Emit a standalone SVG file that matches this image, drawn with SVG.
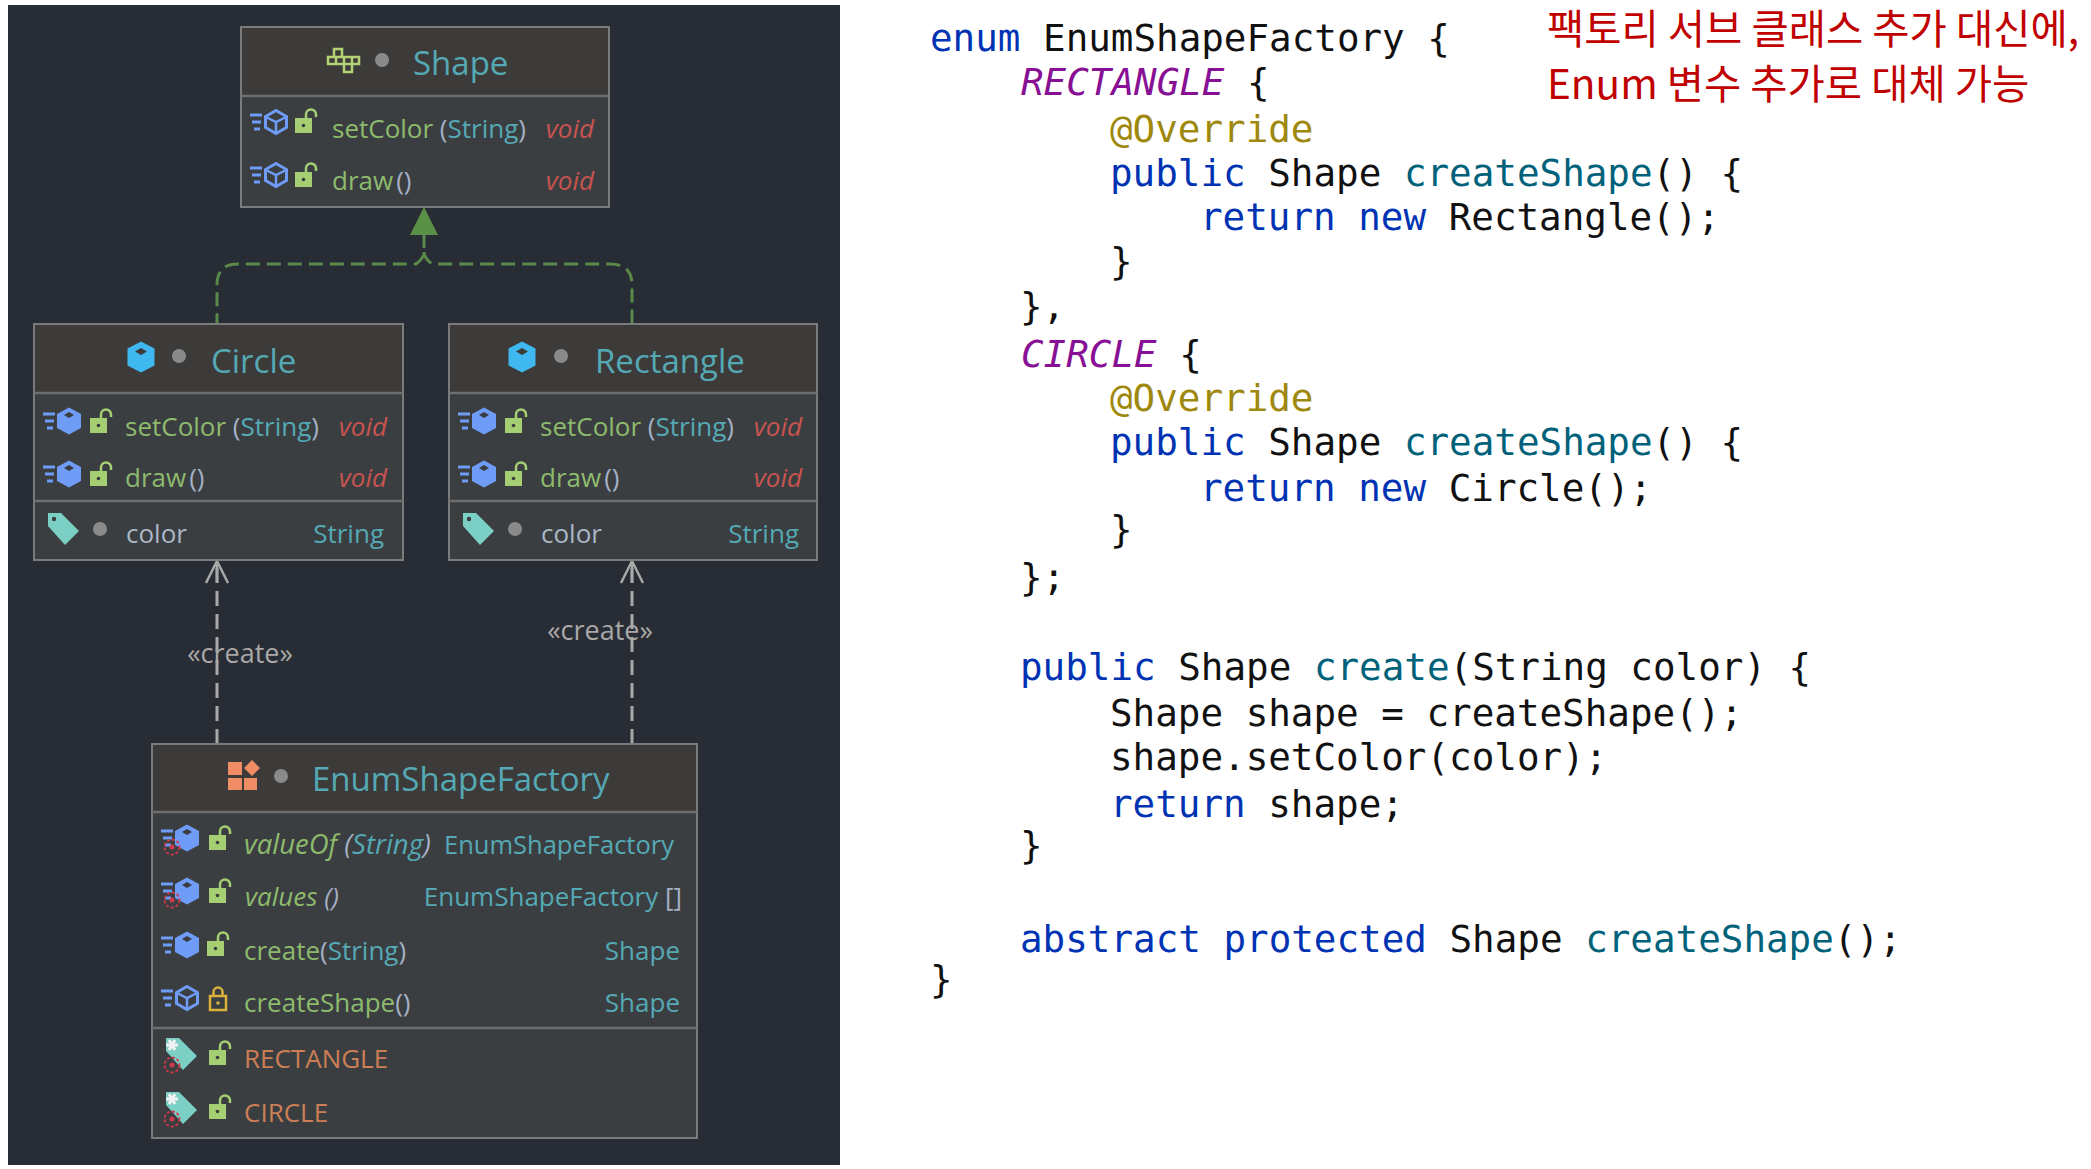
<svg xmlns="http://www.w3.org/2000/svg" xmlns:xlink="http://www.w3.org/1999/xlink" width="2091" height="1169" viewBox="0 0 2091 1169">
<style>
.hd{fill:#3c3b3a}.bd{fill:#3b3e41}.bx{fill:none;stroke:#7b7b7b;stroke-width:2}.sp{stroke:#6e6e6e;stroke-width:2.5}
.u{font-family:"Open Sans","Noto Sans",sans-serif;font-size:26px;fill:#8dbb6d}
.t{font-size:33px;fill:#55a9b5}.r{fill:#55a9b5;text-anchor:end}.v{fill:#c75450;font-style:italic;text-anchor:end}
.p{fill:#a4b0c4}.i{font-style:italic}.o{fill:#cc7f55}.g{fill:#a9b7c6}.l{fill:#a8a8a8;font-size:27px}
.c{font-family:"DejaVu Sans Mono","Liberation Mono",monospace;font-size:37.55px;fill:#111}
.k{fill:#0033b3}.f{fill:#00627a}.a{fill:#9e880d}.e{fill:#871094;font-style:italic}
.n{font-family:"Noto Sans CJK KR","Noto Sans",sans-serif;font-size:40.5px;fill:#c00000}
.dot{fill:#8a8a8a}
.impl{fill:none;stroke:#5a8a4a;stroke-width:3;stroke-dasharray:14 7}
.dep{fill:none;stroke:#a8a8a8;stroke-width:3;stroke-dasharray:15 8}
.cell{fill:none;stroke:#b4d273;stroke-width:2.5}
</style>
<defs>
<g id="speed"><path d="M-26 -7h12M-24 0h9M-22 7h6" stroke="#6f9cf7" stroke-width="3" fill="none"/></g>
<g id="mh"><use href="#speed"/><path d="M0 -11.500L10.500 -5.500V5.500L0 11.500L-10.500 5.500V-5.500Z" fill="none" stroke="#6f9cf7" stroke-width="3"/><path d="M-10 -5L0 0L10 -5M0 0V11" fill="none" stroke="#6f9cf7" stroke-width="2.500"/></g>
<g id="mf"><use href="#speed"/><path d="M0 -13.500L12 -7V7L0 13.500L-12 7V-7Z" fill="#6f9cf7"/><path d="M-5 -6L0 -9L5 -6L0 -3Z" fill="#3b3e41"/></g>
<g id="lock"><rect x="0" y="0" width="17" height="15" fill="#a5cf72"/><circle cx="8.500" cy="7.500" r="1.800" fill="#3b3e41"/><path d="M11 0V-3.500A5 5 0 0 1 21 -3.500V-1" fill="none" stroke="#a5cf72" stroke-width="2.500"/></g>
<g id="plock"><rect x="0" y="0" width="16" height="14" fill="none" stroke="#d9b13b" stroke-width="2.500"/><circle cx="8" cy="7" r="1.800" fill="#d9b13b"/><path d="M3.500 0V-4A4.500 4.500 0 0 1 12.500 -4V0" fill="none" stroke="#d9b13b" stroke-width="2.500"/></g>
<g id="tag"><path d="M-15 -16H-2L16 2L2 16L-15 -3Z" fill="#7ccfc4"/><circle cx="-9" cy="-10" r="2.200" fill="#3b3e41"/></g>
<g id="st"><circle cx="0" cy="0" r="7.500" fill="none" stroke="#d0384b" stroke-width="1.800" stroke-dasharray="3 2"/><circle cx="0" cy="0" r="2.500" fill="#d0384b"/></g>
<g id="sn"><path d="M-6 0H6M-3 -5L3 5M3 -5L-3 5" stroke="#f2f2f2" stroke-width="3" fill="none"/></g>
<g id="cls"><path d="M0 -15.500L13.500 -8.500V8.500L0 15.500L-13.500 8.500V-8.500Z" fill="#3fb8f0"/><path d="M-6 -5.500L0 -9L6 -5.500L0 -2Z" fill="#3c3b3a"/></g>
<path id="arr" d="M-11 22L0 0L11 22M0 0V22" fill="none" stroke="#a8a8a8" stroke-width="2.500"/>
</defs>
<rect width="2091" height="1169" fill="#fff"/>
<rect x="8" y="5" width="832" height="1160" fill="#282c34"/>

<g id="connectors">
<path class="impl" d="M424 234V252Q424 258 416 264H238Q217 264 217 285V324"/>
<path class="impl" d="M424 252Q424 258 432 264H610Q632 264 632 285V324"/>
<path d="M424 207L438 235H410Z" fill="#5a8f46"/>
<path class="dep" d="M217 744V562"/><path class="dep" d="M632 744V562"/>
<use href="#arr" transform="translate(217 561)"/><use href="#arr" transform="translate(632 561)"/>
<text class="u l" x="240" y="663" text-anchor="middle">«create»</text>
<text class="u l" x="600" y="640" text-anchor="middle">«create»</text>
</g>

<g id="node-shape">
<rect class="hd" x="241" y="28" width="368" height="68"/><rect class="bd" x="241" y="96" width="368" height="111"/>
<rect class="bx" x="241" y="27" width="368" height="180"/><line class="sp" x1="241" y1="96" x2="609" y2="96"/>
<path class="cell" d="M334 49h8v8h-8zM328 57h8v7h-8zM336 57h8v7h-8zM344 57h8v7h-8zM352 57h7v7h-7zM344 64h8v8h-8z"/>
<circle class="dot" cx="382" cy="60" r="7"/>
<text class="u t" x="413" y="75">Shape</text>
<use href="#mh" transform="translate(276 122)"/><use href="#lock" transform="translate(295 118)"/>
<text class="u" x="332" y="138">setColor<tspan class="p"> (</tspan><tspan class="r" style="text-anchor:start">String</tspan><tspan class="p">)</tspan></text>
<text class="u v" x="594" y="138">void</text>
<use href="#mh" transform="translate(276 175)"/><use href="#lock" transform="translate(295 172)"/>
<text class="u" x="332" y="190">draw<tspan class="p" dx="3">()</tspan></text>
<text class="u v" x="594" y="190">void</text>
</g>

<g id="node-circle">
<rect class="hd" x="34" y="324" width="369" height="69"/><rect class="bd" x="34" y="393" width="369" height="167"/>
<rect class="bx" x="34" y="324" width="369" height="236"/><line class="sp" x1="34" y1="393" x2="403" y2="393"/><line class="sp" x1="34" y1="501" x2="403" y2="501"/>
<use href="#cls" transform="translate(141 357)"/><circle class="dot" cx="179" cy="356" r="7"/>
<text class="u t" x="211" y="373">Circle</text>
<use href="#mf" transform="translate(69 421)"/><use href="#lock" transform="translate(90 418)"/>
<text class="u" x="125" y="436">setColor<tspan class="p"> (</tspan><tspan class="r" style="text-anchor:start">String</tspan><tspan class="p">)</tspan></text>
<text class="u v" x="387" y="436">void</text>
<use href="#mf" transform="translate(69 474)"/><use href="#lock" transform="translate(90 471)"/>
<text class="u" x="125" y="487">draw<tspan class="p" dx="3">()</tspan></text>
<text class="u v" x="387" y="487">void</text>
<use href="#tag" transform="translate(63 529)"/><circle class="dot" cx="100" cy="529" r="7"/>
<text class="u g" x="126" y="543">color</text><text class="u r" x="384" y="543">String</text>
</g>

<g id="node-rectangle">
<rect class="hd" x="449" y="324" width="368" height="69"/><rect class="bd" x="449" y="393" width="368" height="167"/>
<rect class="bx" x="449" y="324" width="368" height="236"/><line class="sp" x1="449" y1="393" x2="817" y2="393"/><line class="sp" x1="449" y1="501" x2="817" y2="501"/>
<use href="#cls" transform="translate(522 357)"/><circle class="dot" cx="561" cy="356" r="7"/>
<text class="u t" x="595" y="373">Rectangle</text>
<use href="#mf" transform="translate(484 421)"/><use href="#lock" transform="translate(505 418)"/>
<text class="u" x="540" y="436">setColor<tspan class="p"> (</tspan><tspan class="r" style="text-anchor:start">String</tspan><tspan class="p">)</tspan></text>
<text class="u v" x="802" y="436">void</text>
<use href="#mf" transform="translate(484 474)"/><use href="#lock" transform="translate(505 471)"/>
<text class="u" x="540" y="487">draw<tspan class="p" dx="3">()</tspan></text>
<text class="u v" x="802" y="487">void</text>
<use href="#tag" transform="translate(478 529)"/><circle class="dot" cx="515" cy="529" r="7"/>
<text class="u g" x="541" y="543">color</text><text class="u r" x="799" y="543">String</text>
</g>

<g id="node-enumshapefactory">
<rect class="hd" x="152" y="744" width="545" height="68"/><rect class="bd" x="152" y="812" width="545" height="326"/>
<rect class="bx" x="152" y="744" width="545" height="394"/><line class="sp" x1="152" y1="812" x2="697" y2="812"/><line class="sp" x1="152" y1="1028" x2="697" y2="1028"/>
<path d="M228 762h14v13h-14zM228 778h14v12h-14zM244 778h13v12h-13zM252 760l8 8l-8 8l-8 -8z" fill="#f28c64"/>
<circle class="dot" cx="281" cy="776" r="7"/>
<text class="u t" x="312" y="791">EnumShapeFactory</text>
<use href="#mf" transform="translate(187 838)"/><use href="#st" transform="translate(172 847)"/><use href="#lock" transform="translate(209 835)"/>
<text class="u i" x="244" y="854" style="font-size:27.500px">valueOf<tspan class="p"> (</tspan><tspan class="r" style="text-anchor:start">String</tspan><tspan class="p">)</tspan></text>
<text class="u r" x="674" y="854" textLength="230" lengthAdjust="spacingAndGlyphs">EnumShapeFactory</text>
<use href="#mf" transform="translate(187 891)"/><use href="#st" transform="translate(172 900)"/><use href="#lock" transform="translate(209 888)"/>
<text class="u i" x="245" y="906">values<tspan class="p"> ()</tspan></text>
<text class="u r" x="682" y="906">EnumShapeFactory<tspan class="p"> []</tspan></text>
<use href="#mf" transform="translate(187 945)"/><use href="#lock" transform="translate(207 941)"/>
<text class="u" x="244" y="960">create<tspan class="p">(</tspan><tspan class="r" style="text-anchor:start">String</tspan><tspan class="p">)</tspan></text>
<text class="u r" x="680" y="960">Shape</text>
<use href="#mh" transform="translate(187 998)"/><use href="#plock" transform="translate(210 996)"/>
<text class="u" x="244" y="1012">createShape<tspan class="p">()</tspan></text>
<text class="u r" x="680" y="1012">Shape</text>
<use href="#tag" transform="translate(181 1054)"/><use href="#st" transform="translate(172 1065)"/><use href="#sn" transform="translate(172 1045)"/><use href="#lock" transform="translate(209 1050)"/>
<text class="u o" x="244" y="1068">RECTANGLE</text>
<use href="#tag" transform="translate(181 1108)"/><use href="#st" transform="translate(172 1119)"/><use href="#sn" transform="translate(172 1099)"/><use href="#lock" transform="translate(209 1104)"/>
<text class="u o" x="244" y="1122">CIRCLE</text>
</g>

<g id="code">
<text class="c" x="930" y="51"><tspan class="k">enum</tspan> EnumShapeFactory {</text>
<text class="c" x="1021" y="95"><tspan class="e">RECTANGLE</tspan> {</text>
<text class="c a" x="1110" y="142">@Override</text>
<text class="c" x="1110" y="186"><tspan class="k">public</tspan> Shape <tspan class="f">createShape</tspan>() {</text>
<text class="c" x="1200" y="230"><tspan class="k">return new</tspan> Rectangle();</text>
<text class="c" x="1110" y="274">}</text>
<text class="c" x="1020" y="319">},</text>
<text class="c" x="1021" y="367"><tspan class="e">CIRCLE</tspan> {</text>
<text class="c a" x="1110" y="411">@Override</text>
<text class="c" x="1110" y="455"><tspan class="k">public</tspan> Shape <tspan class="f">createShape</tspan>() {</text>
<text class="c" x="1200" y="501"><tspan class="k">return new</tspan> Circle();</text>
<text class="c" x="1110" y="542">}</text>
<text class="c" x="1020" y="590">};</text>
<text class="c" x="1020" y="680"><tspan class="k">public</tspan> Shape <tspan class="f">create</tspan>(String color) {</text>
<text class="c" x="1110" y="726">Shape shape = createShape();</text>
<text class="c" x="1110" y="770">shape.setColor(color);</text>
<text class="c" x="1110" y="817"><tspan class="k">return</tspan> shape;</text>
<text class="c" x="1020" y="858">}</text>
<text class="c" x="1020" y="952"><tspan class="k">abstract protected</tspan> Shape <tspan class="f">createShape</tspan>();</text>
<text class="c" x="930" y="992">}</text>
</g>

<g id="note">
<text class="n" x="1547" y="44">팩토리 서브 클래스 추가 대신에,</text>
<text class="n" x="1547" y="99">Enum 변수 추가로 대체 가능</text>
</g>
</svg>
